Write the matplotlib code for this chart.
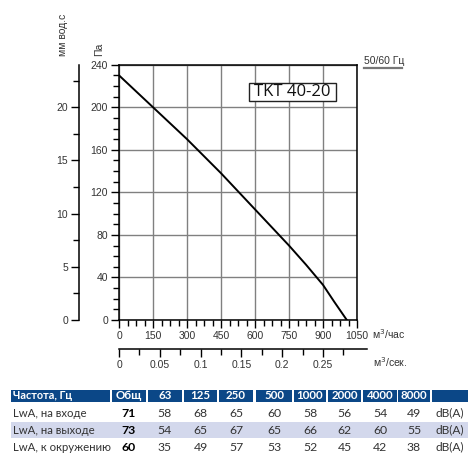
import numpy as np
import matplotlib
matplotlib.use("Agg")
import matplotlib.pyplot as plt
from matplotlib.ticker import MultipleLocator, FixedLocator
from matplotlib.patches import Rectangle

# fan curve
flow_m3h = [0, 75, 150, 225, 300, 375, 450, 525, 600, 675, 750, 825, 900, 950, 1005]
pressure_pa = [230, 215, 200, 185, 170, 154, 138, 121, 104, 87, 70, 52, 33, 17, 0]

# sound table
col_labels = ["Частота, Гц", "Общ", "63", "125", "250", "500", "1000", "2000", "4000", "8000", ""]
row_names = ["LwA, на входе", "LwA, на выходе", "LwA, к окружению"]
lwa_inlet = [71, 58, 68, 65, 60, 58, 56, 54, 49]
lwa_outlet = [73, 54, 65, 67, 65, 66, 62, 60, 55]
lwa_ambient = [60, 35, 49, 57, 53, 52, 45, 42, 38]
unit = "dB(A)"

W, H = 475, 461
plt.rcParams["font.family"] = ["Liberation Sans", "DejaVu Sans"]
fig = plt.figure(figsize=(W / 100, H / 100), dpi=100)


def box(x0, y0, x1, y1):
    # pixel box (top-left origin) -> figure fraction rect
    return [x0 / W, 1 - y1 / H, (x1 - x0) / W, (y1 - y0) / H]


txt = "#333333"
grid_c = "#808080"
fs_tick = 7.5

# main chart
ax = fig.add_axes(box(119, 64.7, 357, 320))
ax.plot(flow_m3h, pressure_pa, color="black", lw=1.4, zorder=3)
ax.set_xlim(0, 1050)
ax.set_ylim(0, 240)
ax.xaxis.set_major_locator(MultipleLocator(150))
ax.xaxis.set_minor_locator(MultipleLocator(37.5))
ax.yaxis.set_major_locator(MultipleLocator(40))
ax.yaxis.set_minor_locator(MultipleLocator(10))
ax.grid(True, which="major", color=grid_c, lw=1.0)
ax.tick_params(which="major", direction="out", length=6, width=1, labelsize=fs_tick,
               labelcolor=txt, pad=2)
ax.tick_params(which="minor", direction="out", length=4, width=1)
for s in ax.spines.values():
    s.set_linewidth(1.1)
ax.text(1.062, -0.055, "м$^3$/час", transform=ax.transAxes, fontsize=fs_tick,
        color=txt, va="center", ha="left")
ax.text(-0.085, 1.035, "Па", transform=ax.transAxes, fontsize=fs_tick, color=txt,
        rotation=90, ha="center", va="bottom")

# mm water column axis (1 mm ~ 10 Pa)
ax_mm = fig.add_axes(box(79, 64.7, 119, 320))
ax_mm.set_ylim(0, 24)
ax_mm.set_xticks([])
for k in ["top", "right", "bottom"]:
    ax_mm.spines[k].set_visible(False)
ax_mm.spines["left"].set_linewidth(1.1)
ax_mm.patch.set_alpha(0)
ax_mm.yaxis.set_major_locator(FixedLocator([0, 5, 10, 15, 20]))
ax_mm.yaxis.set_minor_locator(FixedLocator([2.5, 7.5, 12.5, 17.5, 22.5]))
ax_mm.tick_params(which="major", direction="out", length=6, width=1,
                  labelsize=fs_tick, labelcolor=txt, pad=2)
ax_mm.tick_params(which="minor", direction="out", length=4, width=1)
fig.text(63 / W, 1 - 35 / H, "мм вод.с", rotation=90, fontsize=fs_tick, color=txt,
         ha="center", va="center")

# m3/s axis
flow_max_s = 1050 / 3600
ext = 0.304
ax_s = fig.add_axes(box(119, 348, 119 + 238 * ext / flow_max_s, 348.5))
ax_s.set_xlim(0, ext)
ax_s.set_yticks([])
for k in ["top", "right", "left"]:
    ax_s.spines[k].set_visible(False)
ax_s.spines["bottom"].set_linewidth(1.1)
ax_s.patch.set_alpha(0)
ax_s.xaxis.set_major_locator(FixedLocator([0, 0.05, 0.1, 0.15, 0.2, 0.25]))
ax_s.xaxis.set_minor_locator(FixedLocator([0.025, 0.075, 0.125, 0.175, 0.225, 0.275]))
ax_s.set_xticklabels(["0", "0.05", "0.1", "0.15", "0.2", "0.25"])
ax_s.tick_params(which="major", direction="out", length=6, width=1,
                 labelsize=fs_tick, labelcolor=txt, pad=2)
ax_s.tick_params(which="minor", direction="out", length=4, width=1)
fig.text(373 / W, 1 - 362 / H, "м$^3$/сек.", fontsize=fs_tick, color=txt,
         ha="left", va="center")

# model label
ax.add_patch(Rectangle((0.546, 0.858), 0.366, 0.07, transform=ax.transAxes,
                       fc="white", ec="#222222", lw=1.0, zorder=5))
ax.text(0.567, 0.893, "TKT 40-20", transform=ax.transAxes, fontsize=12,
        family="Open Sans", color="#111111", ha="left", va="center", zorder=6)

# frequency note
fig.text(364 / W, 1 - 61 / H, "50/60 Гц", fontsize=7.5, color=txt,
         ha="left", va="center")
fig.add_artist(plt.Line2D([364 / W, 402 / W], [1 - 68 / H, 1 - 68 / H],
                          color="#777777", lw=1.6))

# table drawn in pixel coordinates
tab = fig.add_axes([0, 0, 1, 1])
tab.set_xlim(0, W)
tab.set_ylim(H, 0)
tab.axis("off")
tab.patch.set_alpha(0)

col_edges = [(11, 110), (112, 146), (148, 182), (184, 217), (219, 253), (256, 292),
             (294, 326), (328, 361), (363, 397), (398, 430), (432, 468)]
head_c = "#0b4787"
band_c = "#d3d8ec"
tfont = "Lato"

for (x0, x1), lab in zip(col_edges, col_labels):
    tab.add_patch(Rectangle((x0, 390), x1 - x0, 11.5, color=head_c, lw=0))
    if lab:
        if x0 == 11:
            tab.text(x0 + 2, 395.8, lab, color="white", fontsize=7.8, family=tfont,
                     weight="bold", ha="left", va="center")
        else:
            tab.text((x0 + x1) / 2, 395.8, lab, color="white", fontsize=8.3,
                     family=tfont, weight="bold", ha="center", va="center")

tab.add_patch(Rectangle((11, 422), 457, 16, color=band_c, lw=0))

rows = [lwa_inlet, lwa_outlet, lwa_ambient]
row_y = [413, 430, 447]
for name, vals, y in zip(row_names, rows, row_y):
    tab.text(13, y, name, fontsize=8.2, family=tfont, color=txt, ha="left", va="center")
    for i, v in enumerate(vals):
        x0, x1 = col_edges[i + 1]
        tab.text((x0 + x1) / 2, y, str(v), fontsize=8.8, family=tfont,
                 color="black" if i == 0 else txt,
                 weight="bold" if i == 0 else "normal", ha="center", va="center")
    x0, x1 = col_edges[-1]
    tab.text((x0 + x1) / 2, y, unit, fontsize=8.6, family=tfont, color=txt,
             ha="center", va="center")

fig.savefig("out.png", dpi=100)
